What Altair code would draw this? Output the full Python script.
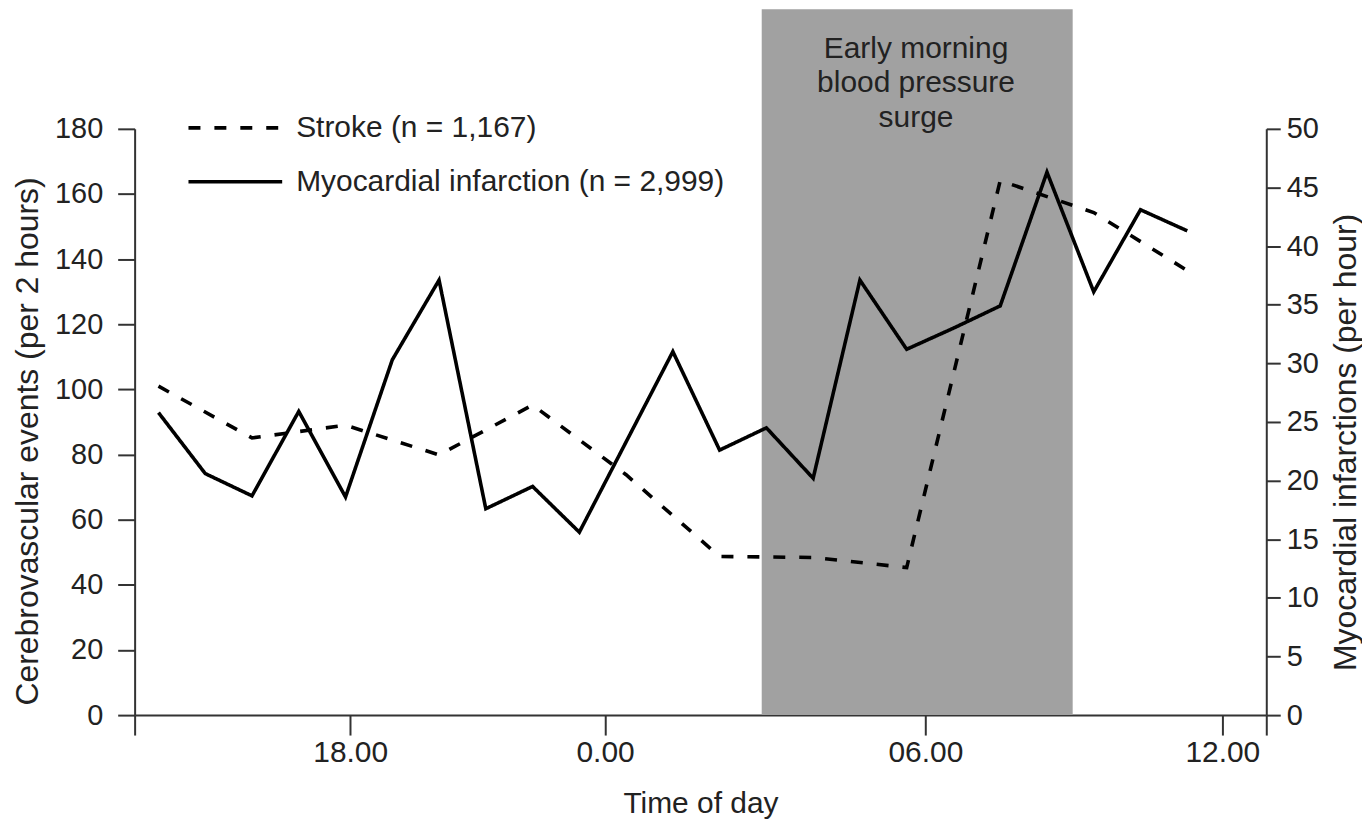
import altair as alt
import pandas as pd

# ---- data ----
mi_hours = list(range(23))
mi_values = [25.8, 20.6, 18.7, 25.9, 18.6, 30.3, 37.1, 17.6, 19.5, 15.6, 23.3, 31.0,
             22.6, 24.5, 20.2, 37.1, 31.2, 33.0, 34.9, 46.3, 36.1, 43.1, 41.3]

stroke_hours = [0, 2, 4, 6, 8, 10, 12, 14, 16, 18, 20, 22]
stroke_values = [101.0, 85.1, 89.0, 79.9, 95.2, 73.8, 48.7, 48.4, 45.3, 164.1, 154.3, 136.5]

series_names = ["Stroke (n = 1,167)", "Myocardial infarction (n = 2,999)"]

tick_positions = [4.1, 9.55, 16.4, 22.75]
tick_labels = ["18.00", "0.00", "06.00", "12.00"]
x_domain = [-0.51, 23.69]

band_start = [12.9]
band_end = [19.55]
band_low = [0]
band_high = [216.7]
band_text = ["Early morning\nblood pressure\nsurge"]
band_text_x = [16.2]
band_text_y = [204.5]

left_ticks = list(range(0, 181, 20))
right_ticks = list(range(0, 51, 5))

FONT = "Liberation Sans"
FS = 30
LFS = 29
TFS = 32
TXT = "#222222"
AX = "#333333"

stroke_df = pd.DataFrame({"hour": stroke_hours, "value": stroke_values,
                          "series": series_names[0]})
mi_df = pd.DataFrame({"hour": mi_hours, "value": mi_values, "series": series_names[1]})
band_df = pd.DataFrame({"start": band_start, "end": band_end,
                        "low": band_low, "high": band_high})
text_df = pd.DataFrame({"label": band_text, "x": band_text_x, "y": band_text_y})

x_scale = alt.Scale(domain=x_domain, nice=False, zero=False)
yl_scale = alt.Scale(domain=[0, 180], nice=False, zero=True)
yr_scale = alt.Scale(domain=[0, 50], nice=False, zero=True)

all_ticks = [x_domain[0]] + tick_positions + [x_domain[1]]
label_expr = "".join(
    f"abs(datum.value - {p}) < 0.001 ? '{l}' : " for p, l in zip(tick_positions, tick_labels)
) + "''"


def x_axis():
    return alt.Axis(values=all_ticks, labelExpr=label_expr, title="Time of day",
                    tickSize=20, labelPadding=3, titlePadding=21,
                    labelFlush=False, labelOverlap=False)


dash_scale = alt.Scale(domain=series_names, range=[[12, 14], [1, 0]])

rect = alt.Chart(band_df).mark_rect(color="#a1a1a1").encode(
    x=alt.X("start:Q", scale=x_scale, axis=x_axis()),
    x2="end:Q",
    y=alt.Y("low:Q", scale=yl_scale, axis=None),
    y2="high:Q",
)

note = alt.Chart(text_df).mark_text(
    align="center", baseline="middle", lineBreak="\n", lineHeight=34.5,
    font=FONT, fontSize=FS, color=TXT,
).encode(
    x=alt.X("x:Q", scale=x_scale, axis=x_axis()),
    y=alt.Y("y:Q", scale=yl_scale, axis=None),
    text="label:N",
)

line_props = dict(color="black", strokeWidth=3.6, strokeJoin="miter", strokeCap="butt")

stroke_line = alt.Chart(stroke_df).mark_line(**line_props).encode(
    x=alt.X("hour:Q", scale=x_scale, axis=x_axis()),
    y=alt.Y("value:Q", scale=yl_scale,
            axis=alt.Axis(values=left_ticks, title="Cerebrovascular events (per 2 hours)",
                          tickSize=17, labelPadding=15, titlePadding=10,
                          labelFontSize=LFS, titleFontSize=TFS, titleY=313)),
    strokeDash=alt.StrokeDash("series:N", scale=dash_scale,
                              legend=alt.Legend(
                                  title=None, orient="none", legendX=62, legendY=-40,
                                  symbolType="M-1.27,0H1.27", symbolSize=5476,
                                  symbolStrokeWidth=3.6, symbolStrokeColor="black",
                                  labelFontSize=FS, labelFont=FONT, labelColor=TXT,
                                  labelOffset=22, rowPadding=0, labelLimit=0)),
)

mi_line = alt.Chart(mi_df).mark_line(**line_props).encode(
    x=alt.X("hour:Q", scale=x_scale, axis=x_axis()),
    y=alt.Y("value:Q", scale=yr_scale,
            axis=alt.Axis(orient="right", values=right_ticks,
                          title="Myocardial infarctions (per hour)",
                          tickSize=14, labelPadding=6, titlePadding=12,
                          labelFontSize=LFS, titleFontSize=TFS, titleY=314,
                          titleAngle=270, titleBaseline="top")),
    strokeDash=alt.StrokeDash("series:N", scale=dash_scale),
)

chart = alt.layer(rect, note, stroke_line, mi_line).resolve_scale(
    y="independent"
).properties(
    width=1135, height=588,
    padding={"left": 3, "top": 0, "right": 0, "bottom": 0},
    background="white",
).configure_view(stroke=None).configure_axis(
    grid=False, domainColor=AX, domainWidth=2, tickColor=AX, tickWidth=2,
    labelFont=FONT, titleFont=FONT, labelFontSize=FS, titleFontSize=FS,
    labelColor=TXT, titleColor=TXT, titleFontWeight="normal",
)

chart.save("out.html", embed_options={"renderer": "svg", "actions": False})
